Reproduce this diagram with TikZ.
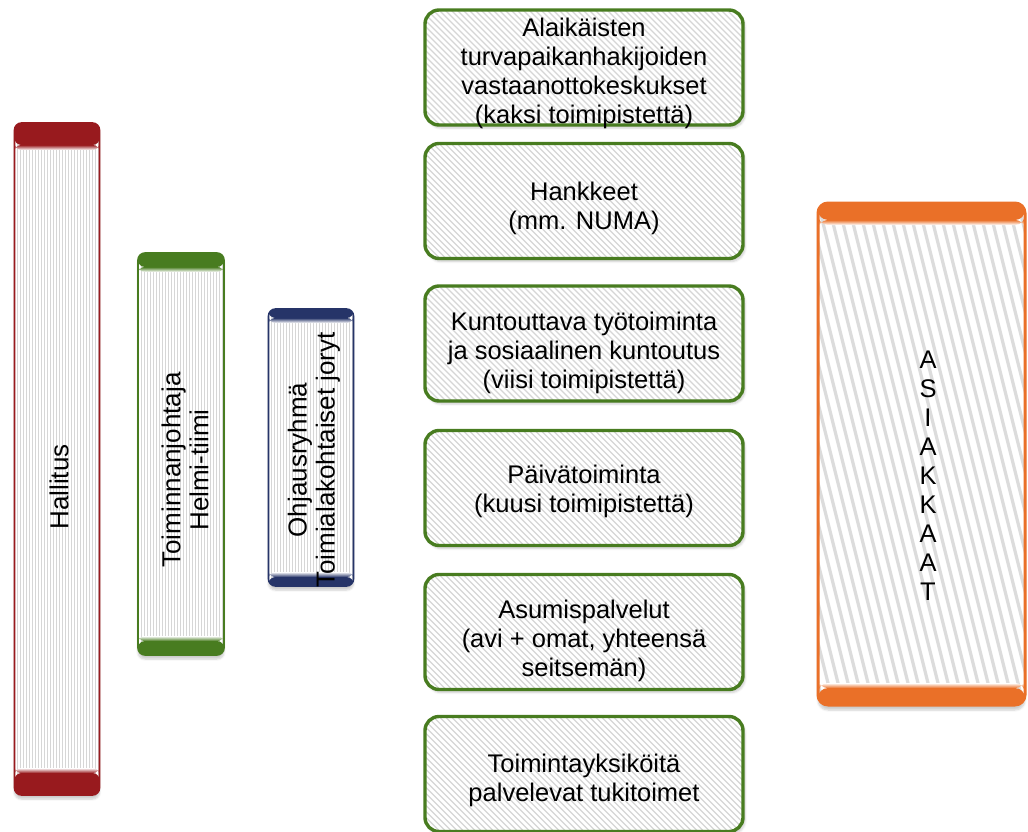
\documentclass[tikz,border=0pt]{standalone}
\usepackage{fontspec}
\setmainfont{Liberation Sans}
\usetikzlibrary{shadows,shadows.blur,calc}
\definecolor{cred}{RGB}{152,26,30}
\definecolor{cgreen}{RGB}{72,124,32}
\definecolor{cnavy}{RGB}{38,52,104}
\definecolor{corange}{RGB}{234,112,40}
\definecolor{hatchc}{RGB}{214,214,214}
\definecolor{hatcho}{RGB}{220,220,220}
\tikzset{
  txt/.style={font=\fontsize{25.5}{29}\selectfont, align=center, text=black},
  rtxt/.style={font=\fontsize{26}{28}\selectfont, align=center, text=black, rotate=90},
  cyl/.style 2 args={draw=#1, line width=1.6pt, rounded corners=7pt, fill=white,
    blur shadow={shadow xshift=0pt, shadow yshift=-4pt, shadow opacity=20, shadow blur steps=6},
    path picture={
      \foreach \i in {0,3,...,220}
        \draw[hatchc, line width=0.6pt] ([xshift=\i pt]path picture bounding box.north west) -- ++(0,-700pt);
      \fill[#1] (path picture bounding box.north west) rectangle ([yshift=-#2 pt]path picture bounding box.north east);
      \shade[top color=#1, bottom color=white] ([yshift=-#2 pt+0.1pt]path picture bounding box.north west) rectangle ([yshift=-#2 pt-5pt]path picture bounding box.north east);
      \fill[#1] (path picture bounding box.south west) rectangle ([yshift=#2 pt]path picture bounding box.south east);
      \shade[bottom color=#1, top color=white] ([yshift=#2 pt-0.1pt]path picture bounding box.south west) rectangle ([yshift=#2 pt+5pt]path picture bounding box.south east);
    }},
  orangecyl/.style={draw=corange, line width=3pt, rounded corners=10pt, fill=white,
    blur shadow={shadow xshift=0pt, shadow yshift=-5pt, shadow opacity=20, shadow blur steps=6},
    path picture={
      \foreach \i in {-140,-130,...,220}
        \draw[hatcho, line width=3.2pt] ([xshift=\i pt]path picture bounding box.north west) -- ++(126pt,-504pt);
      \fill[corange] (path picture bounding box.north west) rectangle ([yshift=-17pt]path picture bounding box.north east);
      \shade[top color=corange, bottom color=white] ([yshift=-16.9pt]path picture bounding box.north west) rectangle ([yshift=-22pt]path picture bounding box.north east);
      \fill[corange] (path picture bounding box.south west) rectangle ([yshift=17pt]path picture bounding box.south east);
      \shade[bottom color=corange, top color=white] ([yshift=16.9pt]path picture bounding box.south west) rectangle ([yshift=22pt]path picture bounding box.south east);
    }},
  gbox/.style={draw=cgreen, line width=3.4pt, rounded corners=14pt, fill=white,
    minimum width=318pt, minimum height=115pt, inner sep=0pt,
    blur shadow={shadow xshift=2pt, shadow yshift=-3pt, shadow opacity=20, shadow blur steps=5},
    path picture={
      \foreach \i in {-130,-124,...,330}
        \draw[hatchc, line width=1.3pt] ([xshift=\i pt]path picture bounding box.north west) -- ++(130pt,-130pt);
    }},
}
\begin{document}
\begin{tikzpicture}[x=1pt,y=-1pt]
\useasboundingbox (0,0) rectangle (1028,832);
% left column shapes
\node[cyl={cred}{22}, minimum width=85pt, minimum height=672pt, inner sep=0pt] (hall) at (57,459) {};
\node[rtxt] (hallt) at (59,487) {Hallitus};
\node[cyl={cgreen}{14}, minimum width=86pt, minimum height=402pt, inner sep=0pt] (toim) at (181,454) {};
\node[rtxt] (toimt) at (185,470) {Toiminnanjohtaja\\Helmi-tiimi};
\node[cyl={cnavy}{9}, minimum width=85pt, minimum height=277pt, inner sep=0pt] (ohj) at (311,447.5) {};
\node[rtxt] (ohjt) at (314,460) {Ohjausryhmä\\Toimialakohtaiset joryt};
% green boxes
\node[gbox] (g1) at (584,67.5) {};
\node[txt] (g1t) at (584,73) {Alaikäisten\\turvapaikanhakijoiden\\vastaanottokeskukset\\(kaksi toimipistettä)};
\node[gbox] (g2) at (584,201) {};
\node[txt] (g2t) at (584,208) {Hankkeet\\(mm. NUMA)};
\node[gbox] (g3) at (584,343.5) {};
\node[txt] (g3t) at (584,353) {Kuntouttava työtoiminta\\ja sosiaalinen kuntoutus\\(viisi toimipistettä)};
\node[gbox] (g4) at (584,488) {};
\node[txt] (g4t) at (584,491) {Päivätoiminta\\(kuusi toimipistettä)};
\node[gbox] (g5) at (584,632) {};
\node[txt] (g5t) at (584,641) {Asumispalvelut\\(avi + omat, yhteensä\\seitsemän)};
\node[gbox] (g6) at (584,774) {};
\node[txt] (g6t) at (584,780) {Toimintayksiköitä\\palvelevat tukitoimet};
% customers
\node[orangecyl, minimum width=207pt, minimum height=502pt, inner sep=0pt] (asi) at (921.5,454) {};
\node[txt] (asit) at (928,476) {A\\S\\I\\A\\K\\K\\A\\A\\T};
\end{tikzpicture}
\end{document}
